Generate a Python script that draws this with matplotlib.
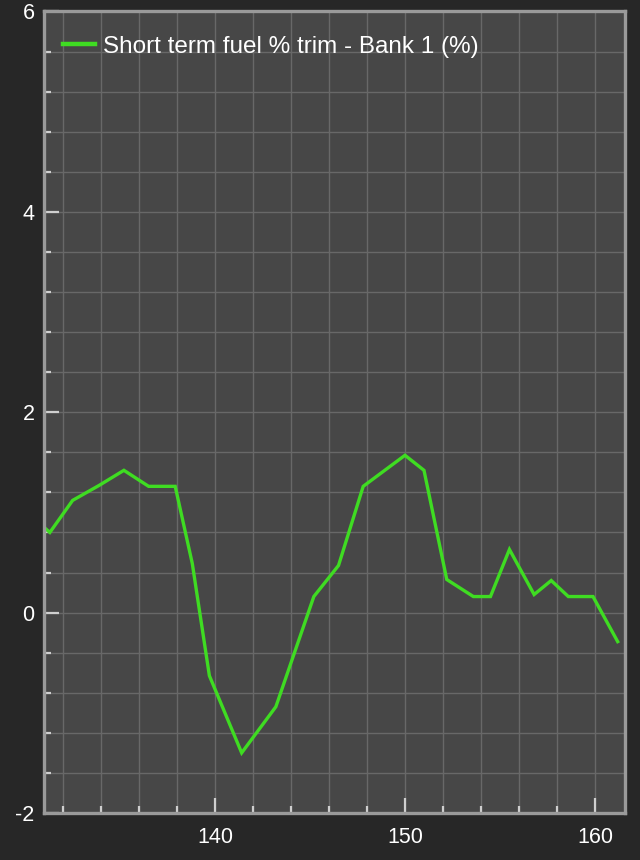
import numpy as np
import matplotlib
matplotlib.use('Agg')
import matplotlib.pyplot as plt
from matplotlib.ticker import MultipleLocator

# Short term fuel trim, bank 1
time_s = [131.0, 131.3, 132.5, 133.9, 135.2, 136.5, 137.9, 138.8, 139.7, 141.4,
          143.2, 145.2, 146.5, 147.8, 150.0, 151.0, 152.2, 153.6, 154.5, 155.5,
          156.8, 157.7, 158.6, 159.9, 161.2]
stft = [0.85, 0.80, 1.12, 1.27, 1.42, 1.26, 1.26, 0.49, -0.63, -1.40,
        -0.94, 0.16, 0.47, 1.26, 1.57, 1.42, 0.33, 0.16, 0.16, 0.63,
        0.18, 0.32, 0.16, 0.16, -0.29]
series_label = 'Short term fuel % trim - Bank 1 (%)'

plt.rcParams['font.family'] = ['Liberation Sans', 'DejaVu Sans']
plt.rcParams['axes.unicode_minus'] = False

fig = plt.figure(figsize=(6.4, 8.6), dpi=100, facecolor='#272727')
ax = fig.add_axes([0.069, 0.0547, 0.908, 0.932])
ax.set_facecolor('#474747')

ax.plot(time_s, stft, color='#3fdc22', lw=2.4, label=series_label,
        solid_joinstyle='miter')

ax.set_xlim(131, 161.6)
ax.set_ylim(-2, 6)
ax.xaxis.set_major_locator(MultipleLocator(10))
ax.xaxis.set_minor_locator(MultipleLocator(2))
ax.yaxis.set_major_locator(MultipleLocator(2))
ax.yaxis.set_minor_locator(MultipleLocator(0.4))

ax.grid(which='both', color='#686868', lw=1)
ax.set_axisbelow(True)

ax.tick_params(which='both', direction='in', colors='#cfcfcf', labelcolor='white',
               labelsize=15.5)
ax.tick_params(which='major', length=11, width=1.6)
ax.tick_params(which='minor', length=5, width=1.6)
ax.tick_params(axis='x', pad=10)
ax.tick_params(axis='y', pad=7)

for sp in ax.spines.values():
    sp.set_color('#9a9a9a')
    sp.set_linewidth(2.4)

leg = ax.legend(loc='upper left', bbox_to_anchor=(0.016, 0.982), borderaxespad=0,
                frameon=False, fontsize=17.5, labelcolor='white',
                handlelength=1.3, handletextpad=0.33)
for h in leg.get_lines():
    h.set_linewidth(3.2)

fig.savefig('out.png', dpi=100, facecolor=fig.get_facecolor())
